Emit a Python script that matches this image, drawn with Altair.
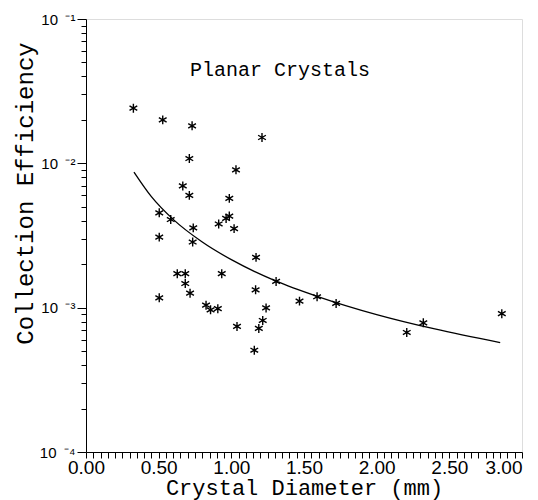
import altair as alt
import pandas as pd

# Scatter observations (crystal diameter in mm, collection efficiency)
diam = [0.326, 0.528, 0.730, 1.211, 0.711, 1.032, 0.666, 0.711, 0.986, 0.504,
        0.583, 0.913, 0.964, 0.986, 1.019, 0.738, 0.504, 0.734, 1.170, 0.628,
        0.683, 0.934, 0.683, 1.308, 0.716, 0.504, 1.167, 1.239, 0.826, 0.857,
        0.907, 1.216, 1.039, 1.189, 1.158, 1.469, 1.590, 1.721, 2.207, 2.321,
        2.861]
eff = [0.0241, 0.0200, 0.0182, 0.0151, 0.0108, 0.00902, 0.00697, 0.00600, 0.00572, 0.00454,
       0.00408, 0.00380, 0.00415, 0.00431, 0.00353, 0.00357, 0.00308, 0.00285, 0.00223, 0.00172,
       0.00172, 0.00172, 0.00147, 0.00152, 0.00126, 0.00117, 0.00133, 0.000996, 0.00104, 0.000966,
       0.000984, 0.000815, 0.000741, 0.000718, 0.000507, 0.00111, 0.00119, 0.00107, 0.000673, 0.000785,
       0.000908]

# Fitted curve
fit_x = [0.33, 0.45, 0.60, 0.80, 1.00, 1.30, 1.60, 2.00, 2.40, 2.85]
fit_y = [0.00870, 0.00588, 0.00409, 0.00285, 0.00215, 0.00154, 0.00119, 0.000896, 0.000712, 0.000573]

x_ticks = [round(i * 0.05, 2) for i in range(61)]
y_ticks = [m * 10.0 ** e for e in (-4, -3, -2) for m in range(1, 10)] + [0.1]

pts = pd.DataFrame({"d": diam, "e": eff})
fit = pd.DataFrame({"d": fit_x, "e": fit_y})

asterisk = "M0,-1L0,1M-0.866,-0.5L0.866,0.5M-0.866,0.5L0.866,-0.5"

x_axis = alt.Axis(
    title="Crystal Diameter (mm)",
    values=x_ticks,
    labelExpr="abs(datum.value*2 - round(datum.value*2)) < 0.001 ? format(datum.value, '.2f') : ''",
    labelAlign={"condition": {"test": "datum.value > 2.99", "value": "right"}, "value": "center"},
    grid=False, domainColor="black", tickColor="black", tickSize=6,
    labelFont="Liberation Sans", labelFontSize=19, labelColor="black",
    labelPadding=0, labelFlush=False, labelOverlap=False, labelBound=False,
    titleFont="Liberation Mono", titleFontSize=22, titleFontWeight="normal",
    titleColor="black", titlePadding=0,
)

decade = "abs(log(datum.value)/LN10 - round(log(datum.value)/LN10)) < 0.001"
y_axis = alt.Axis(
    title="Collection Efficiency",
    values=y_ticks,
    labelExpr=(
        "(" + decade + ") ? ('10\u2002' + (round(log(datum.value)/LN10) == -1 ? '⁻¹' : "
        "round(log(datum.value)/LN10) == -2 ? '⁻²' : "
        "round(log(datum.value)/LN10) == -3 ? '⁻³' : '⁻⁴')) : ''"
    ),
    grid=False, domainColor="black", tickColor="black",
    tickSize={"condition": {"test": decade, "value": 9}, "value": 5},
    labelFont="Liberation Sans", labelFontSize=15, labelColor="black",
    labelPadding=2, labelFlush=False, labelOverlap=False, labelBound=False,
    titleFont="Liberation Mono", titleFontSize=24, titleFontWeight="normal",
    titleColor="black", titleX=-61, titleY=174, titleBaseline="middle",
)

x_scale = alt.Scale(domain=[0, 3], nice=False, zero=False)
y_scale = alt.Scale(type="log", domain=[1e-4, 1e-1], nice=False)

x_enc = alt.X("d:Q", scale=x_scale, axis=x_axis)
y_enc = alt.Y("e:Q", scale=y_scale, axis=y_axis)

scatter = alt.Chart(pts).mark_point(
    shape=asterisk, filled=False, stroke="black", strokeWidth=1.4, size=80, opacity=1
).encode(x=x_enc, y=y_enc)

curve = alt.Chart(fit).mark_line(color="black", strokeWidth=1.3, interpolate="monotone").encode(
    x=x_enc, y=y_enc
)

title = alt.Chart(pd.DataFrame({"t": ["Planar Crystals"]})).mark_text(
    font="Liberation Mono", fontSize=20, color="black", align="center", baseline="middle"
).encode(x=alt.value(194), y=alt.value(51), text="t:N")

chart = (
    alt.layer(scatter, curve, title)
    .properties(
        width=436, height=433,
        autosize=alt.AutoSizeParams(type="none"),
        padding={"left": 78, "top": 11, "right": 8, "bottom": 48},
    )
    .configure_view(stroke=None)
    .configure_axis(labelOverlap=False)
    .configure(background="white")
)

chart.save("out.html", embed_options={"renderer": "svg", "actions": False})
